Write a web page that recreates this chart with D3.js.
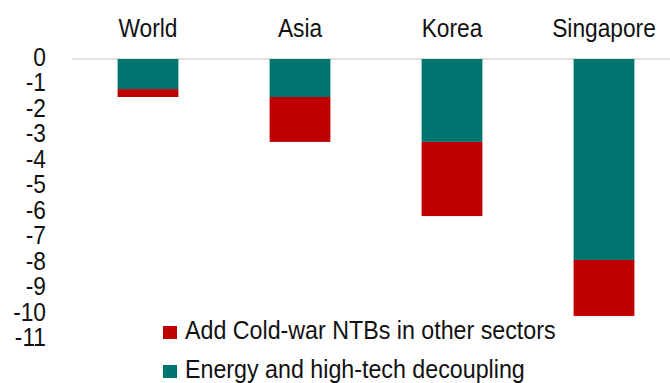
<!DOCTYPE html>
<html>
<head>
<meta charset="utf-8">
<script src="https://cdn.jsdelivr.net/npm/d3@7"></script>
<style>
  html, body { margin: 0; padding: 0; background: #fff; }
  svg { display: block; font-family: "Liberation Sans", Arial, sans-serif; }
</style>
</head>
<body>
<svg id="chart" width="670" height="383"></svg>
<script>
const categories = ["World", "Asia", "Korea", "Singapore"];
const energyHighTech = [-1.18, -1.49, -3.25, -7.88];
const coldWarNTBs = [-0.31, -1.76, -2.91, -2.2];
const yTicks = [0, -1, -2, -3, -4, -5, -6, -7, -8, -9, -10, -11];
const seriesNames = ["Add Cold-war NTBs in other sectors", "Energy and high-tech decoupling"];
const seriesColors = ["#C00000", "#00746F"];

const svg = d3.select("#chart");
const W = 670, H = 383;
const fs = 25, sx = 0.91, sxLegend = 0.93;

const x = d3.scaleBand().domain(categories).range([72, 680]).paddingInner(0.6).paddingOuter(0.3);
const y = d3.scaleLinear().domain([0, -11]).range([59, 339.5]);

// zero gridline
svg.append("line")
  .attr("x1", 72).attr("x2", W)
  .attr("y1", y(0)).attr("y2", y(0))
  .attr("stroke", "#D9D9D9").attr("stroke-width", 1.5);

// stacked bars
const rows = categories.map((c, i) => ({ cat: c, e: energyHighTech[i], n: coldWarNTBs[i] }));
const g = svg.append("g");
g.selectAll("rect.e").data(rows).join("rect")
  .attr("class", "e")
  .attr("x", d => x(d.cat)).attr("width", x.bandwidth())
  .attr("y", y(0)).attr("height", d => y(d.e) - y(0))
  .attr("fill", seriesColors[1]);
g.selectAll("rect.n").data(rows).join("rect")
  .attr("class", "n")
  .attr("x", d => x(d.cat)).attr("width", x.bandwidth())
  .attr("y", d => y(d.e)).attr("height", d => y(d.e + d.n) - y(d.e))
  .attr("fill", seriesColors[0]);

// y tick labels
svg.append("g").selectAll("text").data(yTicks).join("text")
  .attr("transform", d => `translate(46,${y(d) - 2}) scale(${sx},1)`)
  .attr("text-anchor", "end").attr("dy", "0.35em")
  .attr("font-size", fs).attr("fill", "#111")
  .text(d => d);

// category labels on top
svg.append("g").selectAll("text").data(categories).join("text")
  .attr("transform", d => `translate(${x(d) + x.bandwidth() / 2},37) scale(${sx},1)`)
  .attr("text-anchor", "middle")
  .attr("font-size", fs).attr("fill", "#111")
  .text(d => d);

// legend
const lg = svg.append("g");
const legendRows = seriesNames.map((n, i) => ({ name: n, color: seriesColors[i], i }));
lg.selectAll("rect").data(legendRows).join("rect")
  .attr("x", 163).attr("y", d => 326 + d.i * 39)
  .attr("width", 14).attr("height", 13)
  .attr("fill", d => d.color);
lg.selectAll("text").data(legendRows).join("text")
  .attr("transform", d => `translate(185,${339 + d.i * 39}) scale(${sxLegend},1)`)
  .attr("font-size", fs).attr("fill", "#111")
  .text(d => d.name);
</script>
</body>
</html>
